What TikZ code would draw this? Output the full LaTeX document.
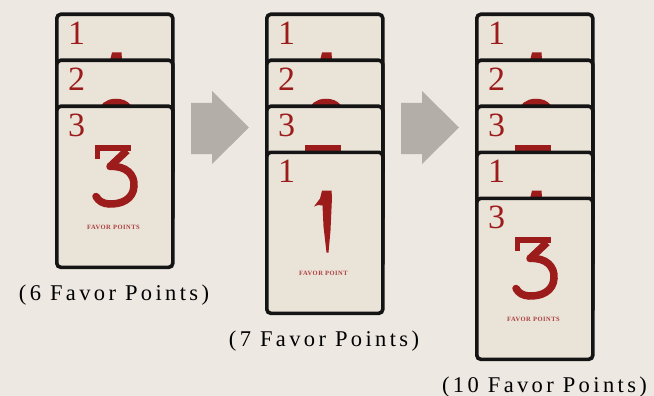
\documentclass[tikz,border=0pt]{standalone}
\usepackage{fontspec}
\setmainfont{Liberation Serif}
\newfontfamily\labelfont[LetterSpace=15]{Liberation Serif}
\newfontfamily\numfont{Liberation Serif}
\newfontfamily\favfont[LetterSpace=8]{Liberation Serif}
\definecolor{bgcol}{HTML}{EDE8E1}
\definecolor{cardfill}{HTML}{EAE3D8}
\definecolor{cardline}{HTML}{141414}
\definecolor{favred}{HTML}{9C1C1C}
\definecolor{arrowgrey}{HTML}{B4AEA9}
\tikzset{
  card/.style={draw=cardline, line width=3.6pt, rounded corners=4pt, fill=cardfill,
    minimum width=116pt, minimum height=161pt, inner sep=0pt, anchor=north west},
  smalldigit/.style={font=\numfont\fontsize{34}{34}\selectfont, text=favred, inner sep=0pt, anchor=north west},
  bigstroke/.style={draw=favred, line width=7.5pt},
  favortext/.style={font=\favfont\bfseries\fontsize{6.5}{7}\selectfont, text=favred!85, inner sep=0pt},
  caption/.style={font=\labelfont\fontsize{22.5}{22.5}\selectfont, anchor=base, inner sep=0pt},
  blockarrow/.style={fill=arrowgrey}
}
\newcommand\favbigone[1]{%
  \fill[favred] (49,56) -- (55,48) -- (57,40) -- (66.5,40) -- (67,47) -- (65.5,80) -- (63.5,102) -- (61.5,102) -- (58.5,76) -- (57.5,55) -- (53,54.5) -- cycle;
  \node[favortext] (#1-t) at (58.5,122.5) {FAVOR POINT};}
\newcommand\favbigtwo[1]{%
  \draw[bigstroke, line cap=round] (47,57) .. controls (47,48) and (53,44) .. (61,44) .. controls (71,44) and (76,50) .. (75,59) .. controls (73,70) and (56,84) .. (44,98) -- (79,98);
  \node[favortext] (#1-t) at (58.5,122.5) {FAVOR POINTS};}
\newcommand\favbigthree[1]{%
  \draw[favred, line width=6pt] (40,43) -- (76,43);
  \draw[favred, line width=5pt] (42.5,41) -- (42.5,54);
  \draw[bigstroke] (72,46) -- (55,62);
  \draw[bigstroke, line cap=round] (55,62) .. controls (71,61) and (80,70) .. (79,82) .. controls (78,95) and (66,100) .. (54,99.5) .. controls (48,99) and (44,97) .. (41,92);
  \node[favortext] (#1-t) at (58.5,122.5) {FAVOR POINTS};}
\newcommand\drawcard[4]{%
  \begin{scope}[shift={(#2,#3)}]
    \node[card] (#1) at (0,0) {};
    \node[smalldigit] (#1-n) at (13,9) {#4};
    \ifcase#4\or\favbigone{#1}\or\favbigtwo{#1}\or\favbigthree{#1}\fi
  \end{scope}}
\begin{document}
\begin{tikzpicture}[x=1pt,y=-1pt]
  \useasboundingbox (0,0) rectangle (654,396);
  \fill[bgcol] (0,0) rectangle (654,396);
  % stack 1
  \drawcard{a1}{55}{12.5}{1}
  \drawcard{a2}{55}{58.5}{2}
  \drawcard{a3}{55}{104.5}{3}
  % stack 2
  \drawcard{b1}{265}{12.5}{1}
  \drawcard{b2}{265}{58.5}{2}
  \drawcard{b3}{265}{104.5}{3}
  \drawcard{b4}{265}{150.5}{1}
  % stack 3
  \drawcard{c1}{475}{12.5}{1}
  \drawcard{c2}{475}{58.5}{2}
  \drawcard{c3}{475}{104.5}{3}
  \drawcard{c4}{475}{150.5}{1}
  \drawcard{c5}{475}{196.5}{3}
  % arrows
  \fill[blockarrow] (191,103) -- (212,103) -- (212,91) -- (249,127.5) -- (212,164) -- (212,154) -- (191,154) -- cycle;
  \fill[blockarrow] (401,103) -- (422,103) -- (422,91) -- (459,127.5) -- (422,164) -- (422,154) -- (401,154) -- cycle;
  % captions
  \node[caption] (cap1) at (114,300.5) {(6 Favor Points)};
  \node[caption] (cap2) at (324,346.5) {(7 Favor Points)};
  \node[caption] (cap3) at (544.5,392.5) {(10 Favor Points)};
\end{tikzpicture}
\end{document}
